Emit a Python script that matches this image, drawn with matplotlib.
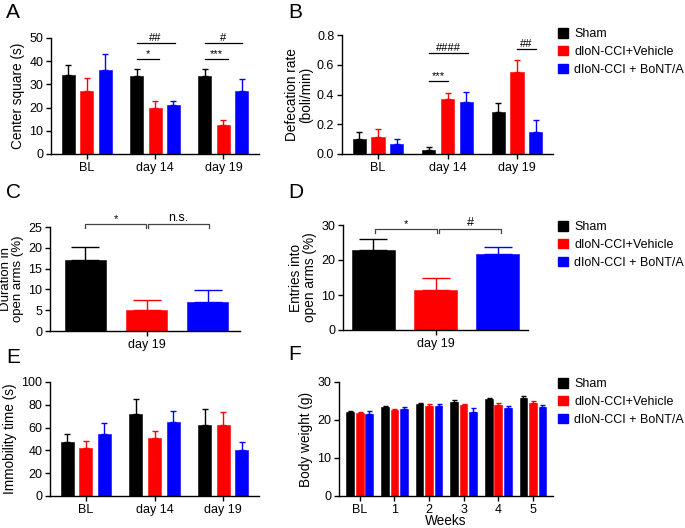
import matplotlib
matplotlib.use("Agg")
import matplotlib.pyplot as plt
import numpy as np
from matplotlib.patches import Patch

plt.rcParams["font.family"] = ["Liberation Sans", "DejaVu Sans"]

W, H = 685, 528
COLORS = ["#000000", "#ff0000", "#0000ff"]
GROUPS = ["Sham", "dIoN-CCI+Vehicle", "dIoN-CCI + BoNT/A"]

# A: center square time (s)
a_labels = ["BL", "day 14", "day 19"]
a_mean = [[34, 33.5, 33.5], [27, 20, 12.3], [36, 21, 27]]
a_err = [[4.5, 3, 3.3], [5.7, 3, 2.3], [7.3, 2, 5.5]]

# B: defecation rate (boli/min)
b_labels = ["BL", "day 14", "day 19"]
b_mean = [[0.10, 0.03, 0.285], [0.115, 0.37, 0.55], [0.07, 0.35, 0.15]]
b_err = [[0.045, 0.02, 0.06], [0.05, 0.04, 0.085], [0.03, 0.07, 0.08]]

# C: duration in open arms (%)
c_mean = [17, 5, 7]
c_err = [3.3, 2.4, 2.8]

# D: entries into open arms (%)
d_mean = [22.8, 11.3, 21.8]
d_err = [3.2, 3.7, 2.0]

# E: immobility time (s)
e_labels = ["BL", "day 14", "day 19"]
e_mean = [[47, 72, 62], [42, 50.5, 62.5], [54.5, 65, 40.5]]
e_err = [[7.5, 13.5, 14], [6.5, 6.5, 11.5], [9.5, 10, 6.5]]

# F: body weight (g)
f_labels = ["BL", "1", "2", "3", "4", "5"]
f_mean = [[22.2, 23.5, 24.1, 24.8, 25.6, 25.8],
          [21.8, 22.6, 23.8, 24.0, 24.0, 24.6],
          [21.7, 22.9, 23.6, 22.2, 23.1, 23.3]]
f_err = [[0.3, 0.3, 0.3, 0.4, 0.3, 0.4],
         [0.4, 0.3, 0.3, 0.3, 0.6, 0.3],
         [0.6, 0.5, 0.5, 0.9, 0.7, 0.6]]

YFS = 9.8


def make_ax(fig, x0, x1, y_top, y_bot):
    ax = fig.add_axes([x0 / W, (H - y_bot) / H, (x1 - x0) / W, (y_bot - y_top) / H])
    ax.spines["top"].set_visible(False)
    ax.spines["right"].set_visible(False)
    ax.spines["left"].set_linewidth(1.0)
    ax.spines["bottom"].set_linewidth(1.0)
    ax.tick_params(labelsize=9, width=1.0, length=3.5, pad=2)
    return ax


def ylabel(ax, text, pad=3, fs=YFS):
    ax.set_ylabel(text, fontsize=fs, labelpad=pad, linespacing=1.0)


def grouped(ax, labels, means, errs, width=0.19, offset=0.27, capsize=2.5, lw=1.0):
    x = np.arange(len(labels))
    for k in range(3):
        xs = x + (k - 1) * offset
        ax.bar(xs, means[k], width, color=COLORS[k], edgecolor=COLORS[k], linewidth=0.4,
               yerr=[np.zeros(len(labels)), errs[k]], ecolor=COLORS[k],
               error_kw=dict(capsize=capsize, elinewidth=lw, capthick=lw))
    ax.set_xticks(x)
    ax.set_xticklabels(labels)
    ax.set_xlim(-0.52, len(labels) - 0.48)


def sig(ax, x0, x1, y, text, dy=0.0, fs=8):
    ax.plot([x0, x1], [y, y], color="black", lw=0.9, clip_on=False)
    ax.text((x0 + x1) / 2, y + dy, text, ha="center", va="bottom", fontsize=fs)


def bracket(ax, x0, x1, y, tick, text, fs=8):
    ax.plot([x0, x0, x1, x1], [y - tick, y, y, y - tick], color="#444444", lw=0.9, clip_on=False)
    ax.text((x0 + x1) / 2, y, text, ha="center", va="bottom", fontsize=fs)


def legend(fig, x, y):
    handles = [Patch(facecolor=c, edgecolor=c) for c in COLORS]
    fig.legend(handles, GROUPS, loc="upper left", bbox_to_anchor=(x / W, (H - y) / H),
               frameon=False, fontsize=9, handlelength=0.8, handleheight=0.8,
               handletextpad=0.5, labelspacing=0.45, borderaxespad=0, borderpad=0)


fig = plt.figure(figsize=(6.85, 5.28), dpi=100)

# A
ax = make_ax(fig, 51, 259, 38, 154)
grouped(ax, a_labels, a_mean, a_err)
ax.set_ylim(0, 50)
ax.set_yticks(range(0, 51, 10))
ylabel(ax, "Center square (s)")
sig(ax, 0.73, 1.06, 41, "*")
sig(ax, 0.73, 1.29, 47.8, "##")
sig(ax, 1.73, 2.06, 41, "***")
sig(ax, 1.73, 2.27, 47.8, "#")

# B
ax = make_ax(fig, 342, 553, 35, 154)
grouped(ax, b_labels, b_mean, b_err)
ax.set_ylim(0, 0.8)
ax.set_yticks([0, 0.2, 0.4, 0.6, 0.8])
ax.set_yticklabels(["0.0", "0.2", "0.4", "0.6", "0.8"])
ylabel(ax, "Defecation rate\n(boli/min)")
sig(ax, 0.73, 1.0, 0.49, "***")
sig(ax, 0.73, 1.3, 0.68, "####")
sig(ax, 2.0, 2.28, 0.705, "##")
legend(fig, 558, 28)

# C
ax = make_ax(fig, 50, 240, 227, 331)
xc = np.arange(3)
for k in range(3):
    ax.bar(xc[k], c_mean[k], 0.67, color=COLORS[k], edgecolor=COLORS[k], linewidth=0.4,
           yerr=[[0], [c_err[k]]], ecolor=COLORS[k],
           error_kw=dict(capsize=10, elinewidth=1.0, capthick=1.0))
ax.set_xlim(-0.58, 2.53)
ax.set_xticks([1])
ax.set_xticklabels(["day 19"])
ax.set_ylim(0, 25)
ax.set_yticks(range(0, 26, 5))
ylabel(ax, "Duration in\nopen arms (%)", fs=9.5)
ax.yaxis.set_label_coords(-0.135, 0.5)
bracket(ax, 0.0, 0.99, 25.7, 0.9, "*")
bracket(ax, 1.03, 2.02, 25.7, 0.9, "n.s.", fs=9)

# D
ax = make_ax(fig, 343, 528, 225, 330)
for k in range(3):
    ax.bar(xc[k], d_mean[k], 0.68, color=COLORS[k], edgecolor=COLORS[k], linewidth=0.4,
           yerr=[[0], [d_err[k]]], ecolor=COLORS[k],
           error_kw=dict(capsize=10, elinewidth=1.0, capthick=1.0))
ax.set_xlim(-0.49, 2.49)
ax.set_xticks([1])
ax.set_xticklabels(["day 19"])
ax.set_ylim(0, 30)
ax.set_yticks([0, 10, 20, 30])
ylabel(ax, "Entries into\nopen arms (%)")
bracket(ax, 0.03, 1.02, 28.9, 1.1, "*")
bracket(ax, 1.06, 2.05, 28.9, 1.1, "#", fs=9)
legend(fig, 558, 221)

# E
ax = make_ax(fig, 50, 259, 382, 496)
grouped(ax, e_labels, e_mean, e_err)
ax.set_ylim(0, 100)
ax.set_yticks(range(0, 101, 20))
ylabel(ax, "Immobility time (s)")

# F
ax = make_ax(fig, 339, 553, 382, 496)
grouped(ax, f_labels, f_mean, f_err, width=0.22, offset=0.275, capsize=1.8)
ax.set_xlim(-0.6, 5.58)
ax.set_ylim(0, 30)
ax.set_yticks([0, 10, 20, 30])
ylabel(ax, "Body weight (g)")
ax.set_xlabel("Weeks", fontsize=YFS, labelpad=-1)
legend(fig, 558, 378)

for letter, x, y in [("A", 6, 3), ("B", 288, 3), ("C", 6, 183), ("D", 288, 183),
                     ("E", 6, 348), ("F", 288, 345)]:
    fig.text(x / W, (H - y) / H, letter, fontsize=15, ha="left", va="top")

fig.savefig("out.png", dpi=100)
